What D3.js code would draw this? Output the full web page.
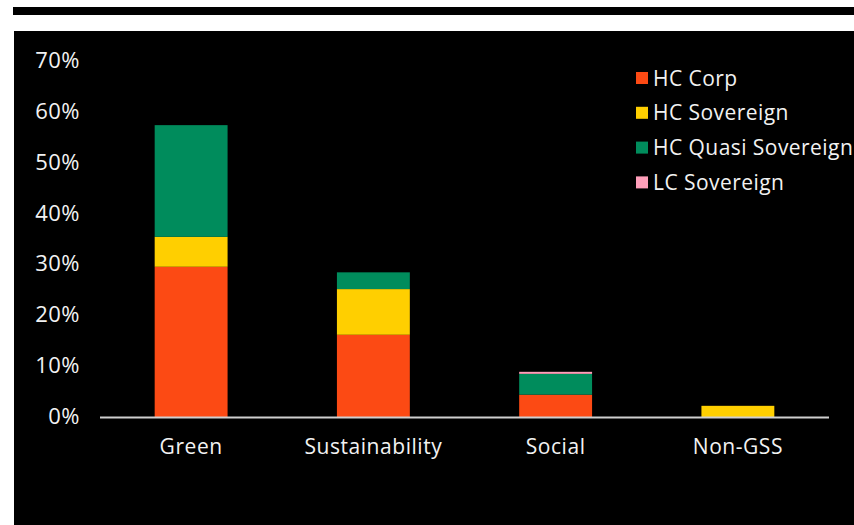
<!DOCTYPE html>
<html>
<head>
<meta charset="utf-8">
<script src="https://cdn.jsdelivr.net/npm/d3@7"></script>
<style>
  html, body { margin: 0; padding: 0; background: #ffffff; }
  svg { display: block; }
  text { font-family: "Open Sans", sans-serif; fill: #f2f2f2; }
</style>
</head>
<body>
<svg id="chart" width="854" height="525"></svg>
<script>
// Bond categories along the x axis
const categories = ["Green", "Sustainability", "Social", "Non-GSS"];

// Series (stack order bottom to top), share of issuance in %
const seriesNames = ["HC Corp", "HC Sovereign", "HC Quasi Sovereign", "LC Sovereign"];
const hcCorp       = [29.7, 16.3, 4.5, 0.0];
const hcSovereign  = [5.9, 9.0, 0.0, 2.3];
const hcQuasiSov   = [22.0, 3.3, 4.1, 0.0];
const lcSovereign  = [0.0, 0.0, 0.4, 0.0];

const seriesColors = ["#fc4a14", "#ffcf00", "#008c5c", "#ff9fba"];
const yTicks = [0, 10, 20, 30, 40, 50, 60, 70];

const rows = categories.map((c, i) => ({
  category: c,
  "HC Corp": hcCorp[i],
  "HC Sovereign": hcSovereign[i],
  "HC Quasi Sovereign": hcQuasiSov[i],
  "LC Sovereign": lcSovereign[i]
}));

const svg = d3.select("#chart");

// Header rule and dark panel
svg.append("rect").attr("x", 13).attr("y", 7).attr("width", 841).attr("height", 8).attr("fill", "#000");
svg.append("rect").attr("x", 14).attr("y", 31).attr("width", 840).attr("height", 494).attr("fill", "#000");

const x = d3.scaleBand()
  .domain(categories)
  .range([100, 829])
  .paddingInner(0.6)
  .paddingOuter(0.3);

const y = d3.scaleLinear()
  .domain([0, 70])
  .range([417.5, 62.2]);

const color = d3.scaleOrdinal().domain(seriesNames).range(seriesColors);

const stacked = d3.stack().keys(seriesNames)(rows);

// Stacked bars
svg.append("g")
  .selectAll("g")
  .data(stacked)
  .join("g")
  .attr("fill", d => color(d.key))
  .selectAll("rect")
  .data(d => d)
  .join("rect")
  .attr("x", d => x(d.data.category))
  .attr("width", x.bandwidth())
  .attr("y", d => y(d[1]))
  .attr("height", d => Math.max(0, y(d[0]) - y(d[1])));

// Y axis labels (no axis line)
const yAxis = d3.axisLeft(y)
  .tickValues(yTicks)
  .tickSize(0)
  .tickPadding(0)
  .tickFormat(d => d + "%");

svg.append("g")
  .attr("transform", "translate(80,0)")
  .call(yAxis)
  .call(g => g.select(".domain").remove())
  .selectAll("text")
  .attr("dy", "0.26em")
  .style("font-family", "'Open Sans', sans-serif")
  .style("font-size", "22px")
  .style("letter-spacing", "0.5px")
  .attr("fill", "#f2f2f2");

// X axis: baseline and category labels
const xAxis = d3.axisBottom(x).tickSize(0).tickPadding(0);
svg.append("g")
  .attr("transform", `translate(0,${y(0)})`)
  .call(xAxis)
  .call(g => g.select(".domain")
    .attr("stroke", "#cfcfcf")
    .attr("stroke-width", 2)
    .attr("d", "M100,0H829"))
  .selectAll("text")
  .attr("y", 36)
  .attr("dy", 0)
  .style("font-family", "'Open Sans', sans-serif")
  .style("font-size", "21px")
  .style("letter-spacing", "0.55px")
  .attr("fill", "#f2f2f2");

// Legend
const legend = svg.append("g").attr("transform", "translate(636,72)");
const item = legend.selectAll("g")
  .data(seriesNames)
  .join("g")
  .attr("transform", (d, i) => `translate(0,${i * 34.8})`);
item.append("rect")
  .attr("width", 12).attr("height", 12)
  .attr("fill", d => color(d));
item.append("text")
  .attr("x", 17)
  .attr("y", 13.5)
  .style("font-size", "21px")
  .style("letter-spacing", "0.45px")
  .text(d => d);
</script>
</body>
</html>
